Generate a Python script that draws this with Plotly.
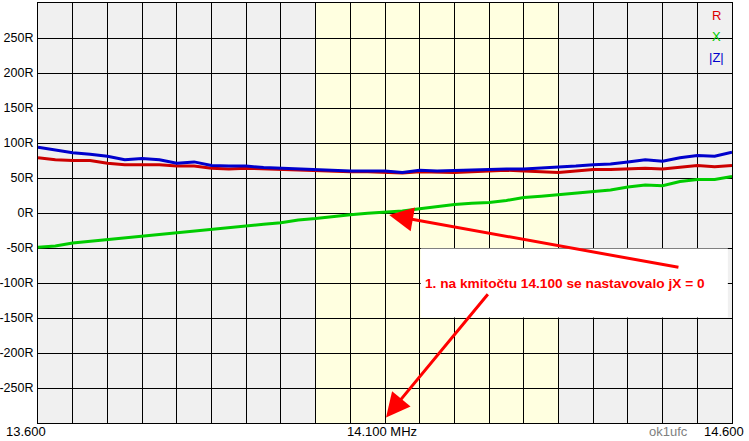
import plotly.graph_objects as go

freq = [13.600 + 0.025 * i for i in range(41)]
z_mag = [94, 90, 86, 84, 81, 76, 78, 76, 71, 73, 68, 67, 67, 65, 64, 62, 62, 60, 60, 60,
         60, 58, 61, 60, 61, 62, 63, 63, 63, 64, 65, 67, 69, 70, 73, 76, 74, 79, 82, 81, 87]
r_val = [79, 76, 75, 75, 71, 69, 69, 69, 67, 67, 64, 63, 64, 63, 62, 61, 61, 59, 59, 59,
         58, 57, 59, 58, 58, 59, 60, 61, 60, 59, 58, 60, 62, 62, 63, 64, 63, 66, 68, 66, 68]
x_val = [-49, -47, -43, -40.5, -38, -36, -33, -31, -28, -25, -23, -21, -18, -16, -14, -10,
         -8, -5, -2.5, -0.5, 1, 3, 6, 9.5, 12, 14, 15, 18, 22, 24, 26, 28, 31, 33, 37, 40,
         39, 45, 48, 48, 52]
y_tick_vals = [-250, -200, -150, -100, -50, 0, 50, 100, 150, 200, 250]
y_tick_text = [f"{v}R" for v in y_tick_vals]
band = [14.000, 14.350]

fig = go.Figure()
fig.add_trace(go.Scatter(x=freq, y=r_val, mode="lines", line=dict(color="#cc0000", width=3)))
fig.add_trace(go.Scatter(x=freq, y=x_val, mode="lines", line=dict(color="#00cc00", width=3)))
fig.add_trace(go.Scatter(x=freq, y=z_mag, mode="lines", line=dict(color="#0000cc", width=3)))

fig.add_shape(type="rect", xref="x", yref="y", x0=band[0], x1=band[1], y0=-300, y1=300,
              fillcolor="#ffffe0", line=dict(width=0), layer="below")
fig.add_shape(type="rect", xref="x", yref="y", x0=14.1515, x1=14.594, y0=-149.3, y1=-50.8,
              fillcolor="white", line=dict(width=0), layer="between")

font = "Liberation Sans, Arial, sans-serif"
fig.update_layout(
    width=749, height=441,
    margin=dict(l=38, r=17, t=3, b=18),
    paper_bgcolor="white", plot_bgcolor="#f0f0f0",
    showlegend=False,
    font=dict(family=font, size=13, color="black"),
)
fig.update_xaxes(range=[13.6, 14.6], dtick=0.05, tick0=13.6, showgrid=True, gridcolor="black",
                 gridwidth=1, showticklabels=False, zeroline=False, showline=True,
                 linecolor="black", linewidth=1, mirror=True, automargin=False)
fig.update_yaxes(range=[-300, 300], dtick=50, tick0=0, showgrid=True, gridcolor="black",
                 gridwidth=1, tickvals=y_tick_vals, ticktext=y_tick_text, zeroline=False,
                 showline=True, linecolor="black", linewidth=1, mirror=True, automargin=False,
                 ticks="", ticklabelstandoff=1, tickfont=dict(size=12.5))

# legend letters
for txt, col, yp in [("R", "#dd0000", 0.971), ("X", "#00cc00", 0.921), ("|Z|", "#0000cc", 0.871)]:
    fig.add_annotation(text=txt, xref="paper", yref="paper", x=0.977, y=yp, showarrow=False,
                       font=dict(color=col, size=13, family=font), xanchor="center", yanchor="middle")

# x labels
for txt, xp, anc, col in [("13.600", -0.049, "left", "black"), ("14.100 MHz", 0.4957, "center", "black"),
                          ("ok1ufc", 0.909, "center", "#808080"), ("14.600", 0.9885, "center", "black")]:
    fig.add_annotation(text=txt, xref="paper", yref="paper", x=xp, y=-0.0214, showarrow=False,
                       font=dict(color=col, size=13, family=font), xanchor=anc, yanchor="middle")

# note
fig.add_annotation(text="<b>1. na kmitočtu 14.100 se nastavovalo jX = 0</b>", xref="x", yref="y",
                   x=14.36, y=-100, showarrow=False, font=dict(color="#ff0000", size=13.7, family=font),
                   xanchor="center", yanchor="middle")
fig.add_annotation(x=14.106, y=-3, ax=14.525, ay=-78, xref="x", yref="y", axref="x", ayref="y",
                   text="", showarrow=True, arrowhead=2, arrowsize=1.6, arrowwidth=3, arrowcolor="#ff0000")
fig.add_annotation(x=14.1015, y=-292, ax=14.25, ay=-114, xref="x", yref="y", axref="x", ayref="y",
                   text="", showarrow=True, arrowhead=2, arrowsize=1.6, arrowwidth=3, arrowcolor="#ff0000")

fig.write_html("out.html", config={"displayModeBar": False},
               post_script="document.body.style.margin='0';document.body.style.overflow='hidden';")
